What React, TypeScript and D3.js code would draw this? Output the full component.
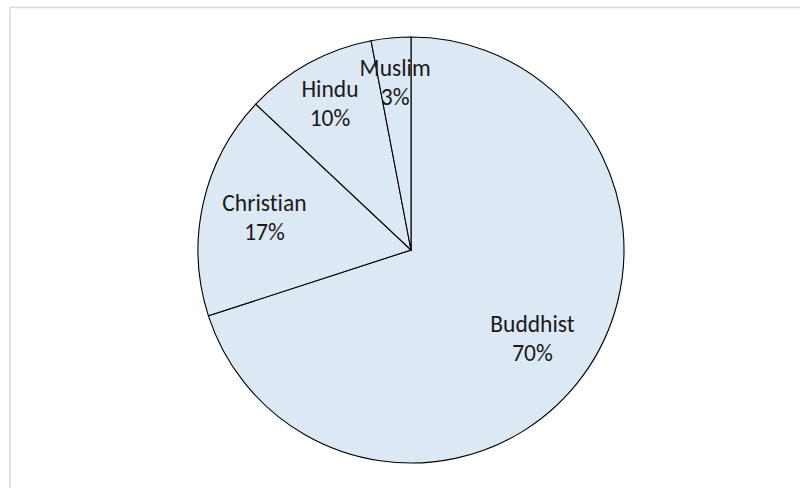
import React from "react";
import * as d3 from "d3";

const categories = ["Buddhist", "Christian", "Hindu", "Muslim"];
const values = [70, 17, 10, 3];
const labels = ["70%", "17%", "10%", "3%"];

const W = 800;
const H = 488;
const cx = 411;
const cy = 250;
const R = 213;

export default function App() {
  const data = categories.map((c, i) => ({ name: c, value: values[i], label: labels[i] }));
  const pie = d3.pie<any>().sort(null).value((d: any) => d.value);
  const arcs = pie(data);
  const arc = d3.arc<any>().innerRadius(0).outerRadius(R);
  const total = d3.sum(values);

  return (
    <svg
      width={W}
      height={H}
      style={{ position: "absolute", left: 0, top: 0, display: "block" }}
    >
      <rect x={0} y={0} width={W} height={H} fill="#ffffff" />
      <rect x={10} y={7.5} width={W + 20} height={H + 20} fill="none" stroke="#d9d9d9" strokeWidth={1.5} />
      <g transform={`translate(${cx},${cy})`}>
        {arcs.map((a, i) => (
          <path key={i} d={arc(a) as string} fill="#dde8f5" stroke="#000" strokeWidth={1.1} />
        ))}
        {arcs.map((a, i) => {
          const frac = a.data.value / total;
          const lr = (frac < 0.15 ? 0.79 : 0.705) * R;
          const mid = (a.startAngle + a.endAngle) / 2;
          const x = Math.sin(mid) * lr;
          const y = -Math.cos(mid) * lr;
          return (
            <text
              key={"t" + i}
              x={x}
              y={y}
              textAnchor="middle"
              fontFamily="Carlito, Calibri, Lato, sans-serif"
              fontSize={23.5}
              fill="#1a1a1a"
              style={{ fontVariantLigatures: "none" }}
            >
              <tspan x={x} y={y - 6}>{a.data.name}</tspan>
              <tspan x={x} y={y + 23}>{a.data.label}</tspan>
            </text>
          );
        })}
      </g>
    </svg>
  );
}
